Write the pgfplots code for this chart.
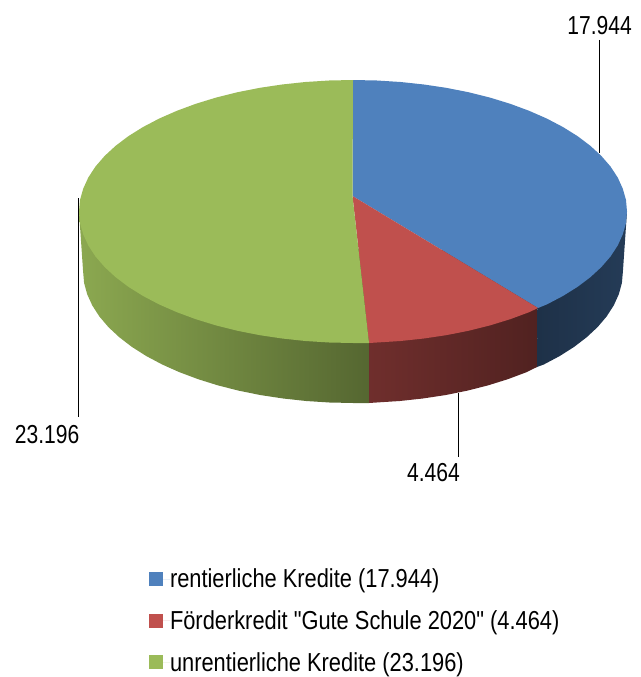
\documentclass[border=0pt]{standalone}
\usepackage{fontspec}
\setmainfont{Liberation Sans}
\newfontfamily\lab[FakeStretch=0.81]{Liberation Sans}
\newfontfamily\leg[FakeStretch=0.84]{Liberation Sans}
\usepackage{pgfplots}
\pgfplotsset{compat=1.18}
\definecolor{cblue}{HTML}{4F81BD}
\definecolor{cred}{HTML}{C0504D}
\definecolor{cgreen}{HTML}{9BBB59}
\begin{document}
\begin{tikzpicture}
\begin{axis}[
  scale only axis, width=640pt, height=677pt,
  xmin=0, xmax=640, ymin=0, ymax=677, y dir=reverse,
  hide axis, clip=false,
  legend style={at={(axis cs:149,569)}, anchor=north west, draw=none, fill=none,
    font=\leg\fontsize{26}{30}\selectfont, row sep=21.3pt, inner sep=0pt, outer sep=0pt,
    nodes={inner sep=0pt, anchor=west}},
  legend cell align=left,
  legend image code/.code={\fill[#1] (0pt,-7pt) rectangle (14pt,7pt);\path (0pt,0pt) -- (21pt,0pt);},
]
\addplot[draw=none, forget plot] coordinates {(0,0)(640,677)};
% side walls
\addplot[draw=none, forget plot, left color=cgreen!90!black, right color=cgreen!55!black] coordinates {
(369,403)(353,403)(329.5,402.5)(306.1,401)(283.2,398.5)(260.7,395.1)(238.9,390.7)(218,385.4)(198.2,379.2)(179.5,372.2)(162.2,364.5)(146.2,356)(131.9,346.9)(119.3,337.25)(108.4,327.1)(99.4,316.5)(92.3,305.5)(87.2,294.3)(84.1,283)(83.1,271.5)(79,211.5)(369,250)} -- cycle;
\addplot[draw=none, forget plot, left color=cred!58!black, right color=cred!42!black] coordinates {
(537,367)(526.5,372.2)(507.8,379.2)(488,385.4)(467.1,390.7)(445.3,395.1)(422.8,398.5)(399.9,401)(376.5,402.5)(369,403)(369,250)(538,250)} -- cycle;
\addplot[draw=none, forget plot, left color=cblue!38!black, right color=cblue!46!black] coordinates {
(622.9,271.5)(621.9,283)(618.8,294.3)(613.7,305.5)(606.6,316.5)(597.6,327.1)(586.7,337.25)(574.1,346.9)(559.8,356)(543.8,364.5)(537,367)(538,250)(627,211.5)} -- cycle;
% top faces
\addplot[draw=none, fill=cblue] coordinates {
(352.5,196)(353,80)(376.9,80.5)(400.6,82)(423.9,84.5)(446.7,87.9)(468.8,92.3)(490,97.6)(510.2,103.8)(529.1,110.8)(546.7,118.5)(562.9,127)(577.5,136.1)(590.3,145.75)(601.3,155.9)(610.5,166.5)(617.7,177.5)(622.8,188.7)(626,200)(627,211.5)(626,223)(622.8,234.3)(617.7,245.5)(610.5,256.5)(601.3,267.1)(590.3,277.25)(577.5,286.9)(562.9,296)(546.7,304.5)(538,308)} -- cycle;
\addlegendentry{rentierliche Kredite (17.944)}
\addplot[draw=none, fill=cred] coordinates {
(352.5,196)(538,308)(529.1,312.2)(510.2,319.2)(490,325.4)(468.8,330.7)(446.7,335.1)(423.9,338.5)(400.6,341)(376.9,342.5)(369,343)} -- cycle;
\addlegendentry{Förderkredit "Gute Schule 2020" (4.464)}
\addplot[draw=none, fill=cgreen] coordinates {
(352.5,196)(369,343)(353,343)(329.1,342.5)(305.4,341)(282.1,338.5)(259.3,335.1)(237.2,330.7)(216,325.4)(195.8,319.2)(176.9,312.2)(159.3,304.5)(143.1,296)(128.5,286.9)(115.7,277.25)(104.7,267.1)(95.5,256.5)(88.3,245.5)(83.2,234.3)(80,223)(79,211.5)(80,200)(83.2,188.7)(88.3,177.5)(95.5,166.5)(104.7,155.9)(115.7,145.75)(128.5,136.1)(143.1,127)(159.3,118.5)(176.9,110.8)(195.8,103.8)(216,97.6)(237.2,92.3)(259.3,87.9)(282.1,84.5)(305.4,82)(329.1,80.5)(353,80)} -- cycle;
\addlegendentry{unrentierliche Kredite (23.196)}
% leader lines
\addplot[black, line width=1.8pt, forget plot] coordinates {(599.5,40)(599.5,153)};
\addplot[black, line width=1.8pt, forget plot] coordinates {(78.5,198)(78.5,417)};
\addplot[black, line width=1.8pt, forget plot] coordinates {(458.5,393)(458.5,457)};
% value labels
\node[anchor=base east, inner sep=0pt, font=\lab\fontsize{26}{30}\selectfont] at (axis cs:632,35) {17.944};
\node[anchor=base east, inner sep=0pt, font=\lab\fontsize{26}{30}\selectfont] at (axis cs:79.5,443) {23.196};
\node[anchor=base east, inner sep=0pt, font=\lab\fontsize{26}{30}\selectfont] at (axis cs:460,481) {4.464};
\end{axis}
\end{tikzpicture}
\end{document}
